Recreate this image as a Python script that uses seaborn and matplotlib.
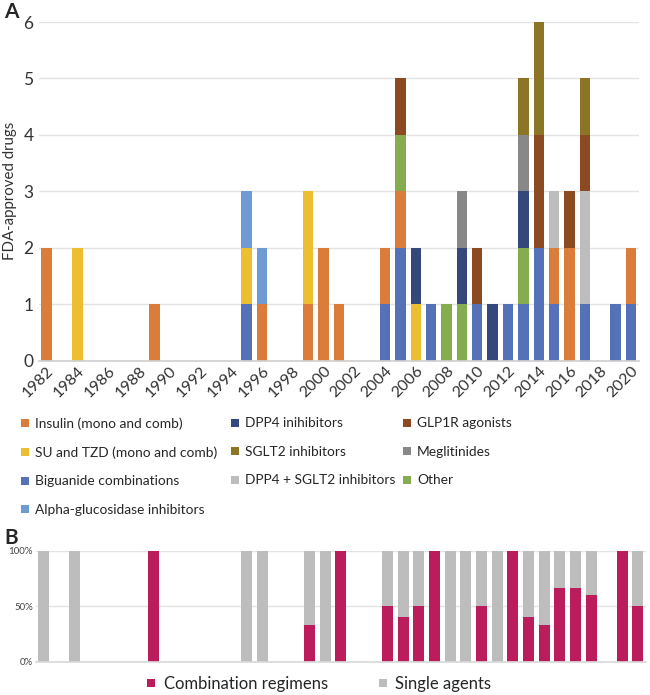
import numpy as np
import matplotlib
matplotlib.use('Agg')
import matplotlib.pyplot as plt
from matplotlib.lines import Line2D
import seaborn as sns

# --- Datos (panel A: aprobaciones por año y clase) ---
years = list(range(1982, 2021))
tick_years = [str(y) for y in range(1982, 2021, 2)]

def serie(d):
    return [d.get(y, 0) for y in years]

biguanide = serie({1995: 1, 2004: 1, 2005: 2, 2007: 1, 2010: 1, 2012: 1, 2013: 1,
                   2014: 2, 2015: 1, 2017: 1, 2019: 1, 2020: 1})
insulin = serie({1982: 2, 1989: 1, 1996: 1, 1999: 1, 2000: 2, 2001: 1, 2004: 1,
                 2005: 1, 2015: 1, 2016: 2, 2020: 1})
su_tzd = serie({1984: 2, 1995: 1, 1999: 2, 2006: 1})
alpha = serie({1995: 1, 1996: 1})
other = serie({2005: 1, 2008: 1, 2009: 1, 2013: 1})
dpp4 = serie({2006: 1, 2009: 1, 2011: 1, 2013: 1})
meglitinides = serie({2009: 1, 2013: 1})
dpp4_sglt2 = serie({2015: 1, 2017: 2})
glp1r = serie({2005: 1, 2010: 1, 2014: 2, 2016: 1, 2017: 1})
sglt2 = serie({2013: 1, 2014: 2, 2017: 1})

# orden de apilado (de abajo hacia arriba)
stack = [
    ('Biguanide combinations', biguanide, '#5571B7'),
    ('Insulin (mono and comb)', insulin, '#DA7D3A'),
    ('SU and TZD (mono and comb)', su_tzd, '#EEBE31'),
    ('Alpha-glucosidase inhibitors', alpha, '#6E9BD3'),
    ('Other', other, '#85AD50'),
    ('DPP4 inihibitors', dpp4, '#34487B'),
    ('Meglitinides', meglitinides, '#888888'),
    ('DPP4 + SGLT2 inhibitors', dpp4_sglt2, '#BDBDBD'),
    ('GLP1R agonists', glp1r, '#8C4A22'),
    ('SGLT2 inhibitors', sglt2, '#8D7526'),
]

# columnas de la leyenda, como en la figura original
leyenda_cols = [
    ['Insulin (mono and comb)', 'SU and TZD (mono and comb)', 'Biguanide combinations',
     'Alpha-glucosidase inhibitors'],
    ['DPP4 inihibitors', 'SGLT2 inhibitors', 'DPP4 + SGLT2 inhibitors'],
    ['GLP1R agonists', 'Meglitinides', 'Other'],
]

# --- Datos (panel B: combinaciones vs agentes únicos) ---
combination = serie({1989: 1, 1999: 1, 2001: 1, 2004: 1, 2005: 2, 2006: 1, 2007: 1,
                     2010: 1, 2012: 1, 2013: 2, 2014: 2, 2015: 2, 2016: 2, 2017: 3,
                     2019: 1, 2020: 1})

sns.set_theme(style="white")
plt.rcParams['font.family'] = ['Lato', 'DejaVu Sans']
TXT = '#262626'

fig = plt.figure(figsize=(6.5, 6.95), dpi=100)
axA = fig.add_axes([0.06, 0.481, 0.9226, 0.4873])
axB = fig.add_axes([0.055, 0.0475, 0.9385, 0.1601])

xcat = [str(y) for y in years]
bottom = np.zeros(len(years))
for nombre, vals, col in stack:
    sns.barplot(x=xcat, y=vals, bottom=bottom, color=col, width=0.68,
                saturation=1, ax=axA, linewidth=0)
    bottom += np.array(vals)

axA.set_ylim(0, 6)
axA.set_xlim(-0.5, len(years) - 0.5)
axA.set_yticks(range(0, 7))
axA.yaxis.grid(True, color='#E3E3E3', linewidth=1)
axA.set_axisbelow(True)
axA.set_xticks(range(0, len(years), 2))
axA.set_xticklabels(tick_years, rotation=45, ha='right', rotation_mode='anchor',
                    fontsize=11.5, color='#333333')
axA.tick_params(axis='y', labelsize=12.5, labelcolor='#333333', pad=4, length=0)
axA.tick_params(axis='x', pad=2, length=0)
for s in ['top', 'right', 'left']:
    axA.spines[s].set_visible(False)
axA.spines['bottom'].set_color('#D0D0D0')
axA.set_ylabel('')
axA.set_xlabel('')
fig.text(0.016, 0.725, 'FDA-approved drugs', rotation=90, ha='center', va='center',
         fontsize=10.8, color='#333333')

# leyenda panel A: una leyenda por columna
colores = {n: c for n, v, c in stack}
col_x = [0.029, 0.352, 0.616]
for xpos, nombres in zip(col_x, leyenda_cols):
    handles = [Line2D([], [], marker='s', linestyle='none', markersize=6,
                      markerfacecolor=colores[n], markeredgewidth=0) for n in nombres]
    fig.legend(handles, nombres, loc='upper left', bbox_to_anchor=(xpos, 0.3995),
               frameon=False, fontsize=9.9, handletextpad=0.3, labelspacing=1.2,
               handlelength=0.9, borderaxespad=0, borderpad=0, labelcolor=TXT)

# panel B
tot = np.array(bottom)
comb = np.array(combination, dtype=float)
pct_comb = np.where(tot > 0, comb / np.where(tot > 0, tot, 1) * 100, 0)
pct_single = np.where(tot > 0, 100 - pct_comb, 0)
sns.barplot(x=xcat, y=pct_comb, color='#BA1C5C', saturation=1, width=0.7,
            ax=axB, linewidth=0)
sns.barplot(x=xcat, y=pct_single, bottom=pct_comb, color='#BDBDBD', saturation=1,
            width=0.7, ax=axB, linewidth=0)
axB.set_ylim(0, 100)
axB.set_xlim(-0.5, len(years) - 0.5)
axB.set_yticks([0, 50, 100])
axB.set_yticklabels(['0%', '50%', '100%'])
axB.tick_params(axis='y', labelsize=7, labelcolor='#444444', pad=2, length=0)
axB.set_xticks([])
axB.yaxis.grid(True, color='#E3E3E3', linewidth=1)
axB.set_axisbelow(True)
for s in ['top', 'right', 'left']:
    axB.spines[s].set_visible(False)
axB.spines['bottom'].set_color('#D9D9D9')
axB.set_xlabel('')
axB.set_ylabel('')

hB = [Line2D([], [], marker='s', linestyle='none', markersize=6,
             markerfacecolor=c, markeredgewidth=0) for c in ['#BA1C5C', '#BDBDBD']]
fig.legend(hB, ['Combination regimens', 'Single agents'], ncol=2, loc='center left',
           bbox_to_anchor=(0.221, 0.016), frameon=False, fontsize=12,
           handletextpad=0.3, columnspacing=2.85, handlelength=0.9,
           borderaxespad=0, borderpad=0, labelcolor=TXT)

fig.text(0.006, 0.997, 'A', fontsize=15, fontweight='bold', va='top')
fig.text(0.006, 0.241, 'B', fontsize=15, fontweight='bold', va='top')

fig.savefig('out.png', dpi=100)
